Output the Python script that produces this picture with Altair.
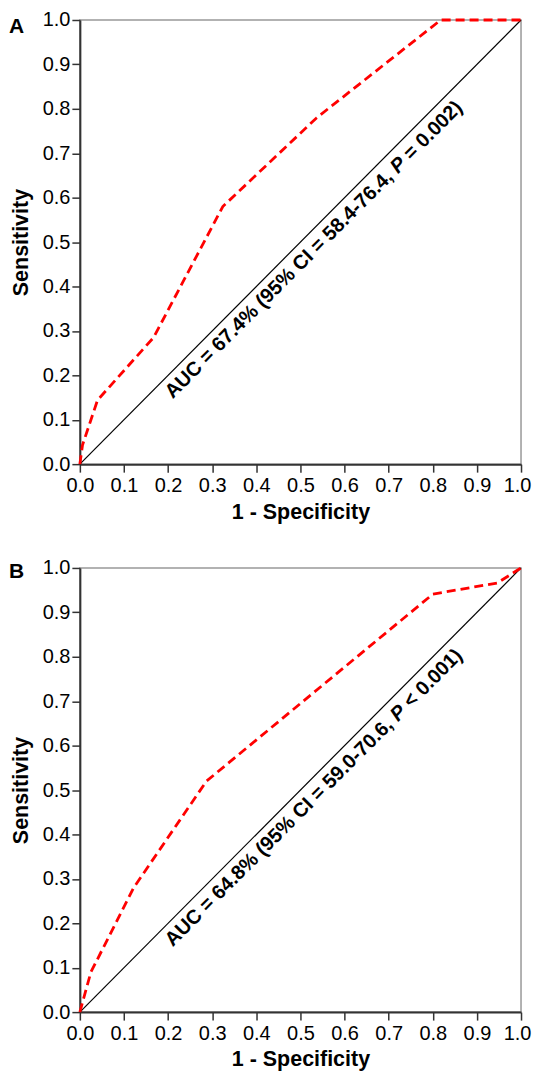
import altair as alt
import pandas as pd

# Panel A ROC
fpr_a = [0.0, 0.006, 0.04, 0.167, 0.324, 0.537, 0.818, 1.0]
tpr_a = [0.0, 0.043, 0.144, 0.285, 0.58, 0.78, 1.0, 1.0]
# Panel B ROC
fpr_b = [0.0, 0.025, 0.122, 0.287, 0.80, 0.946, 1.0]
tpr_b = [0.0, 0.09, 0.28, 0.52, 0.941, 0.966, 1.0]

ticks = [0.0, 0.1, 0.2, 0.3, 0.4, 0.5, 0.6, 0.7, 0.8, 0.9, 1.0]
diag = [0.0, 1.0]

text_a = ["AUC = 67.4% (95% CI = 58.4-76.4,", "P", "= 0.002)"]
text_b = ["AUC = 64.8% (95% CI = 59.0-70.6,", "P", "< 0.001)"]
labels = ["A", "B"]

FONT = "Liberation Sans"
W = 442
H = 445


def panel(fpr, tpr, texts, label, label_y):
    roc = pd.DataFrame({"fpr": fpr, "tpr": tpr})
    dg = pd.DataFrame({"fpr": diag, "tpr": diag})
    xs = alt.X("fpr:Q", scale=alt.Scale(domain=[0, 1], nice=False),
               axis=alt.Axis(values=ticks, format=".1f", title="1 - Specificity",
                             titlePadding=6, labelPadding=3, labelFlush=False,
                             labelOffset={"condition": {"test": "datum.value >= 1",
                                                        "value": -4}, "value": 0}))
    ys = alt.Y("tpr:Q", scale=alt.Scale(domain=[0, 1], nice=False),
               axis=alt.Axis(values=ticks, format=".1f", title="Sensitivity",
                             titlePadding=10, labelPadding=2))
    base_diag = alt.Chart(dg).mark_line(color="black", strokeWidth=1.2).encode(x=xs, y=ys)
    curve = alt.Chart(roc).mark_line(color="#ff0000", strokeWidth=2.8,
                                     strokeDash=[9, 5]).encode(x="fpr:Q", y="tpr:Q")
    anchor = pd.DataFrame({"fpr": [0.5], "tpr": [0.5]})
    fs = 20
    sp = 0.278 * fs
    width1 = 15.674 * fs
    widthP = 0.667 * fs
    width3 = 3.697 * fs
    total = width1 + sp + widthP + sp + width3
    shift = 4
    end1 = width1 - total / 2.0 + shift
    p_start = end1 + sp
    t3_start = p_start + widthP + sp
    dy = 5
    common = dict(angle=315, baseline="top", dy=dy, font=FONT, fontSize=fs,
                  fontWeight="bold", color="black")
    t1 = alt.Chart(anchor).mark_text(text=texts[0], align="right", dx=end1,
                                     **common).encode(x="fpr:Q", y="tpr:Q")
    t2 = alt.Chart(anchor).mark_text(text=texts[1], align="left", dx=p_start,
                                     fontStyle="italic", **common).encode(x="fpr:Q", y="tpr:Q")
    t3 = alt.Chart(anchor).mark_text(text=texts[2], align="left", dx=t3_start,
                                     **common).encode(x="fpr:Q", y="tpr:Q")
    lab = alt.Chart(pd.DataFrame({"l": [label]})).mark_text(
        align="left", baseline="alphabetic", font=FONT, fontSize=21, fontWeight="bold",
        color="black").encode(x=alt.value(-71), y=alt.value(label_y), text="l:N")
    return alt.layer(base_diag, curve, t1, t2, t3, lab).properties(width=W, height=H)


chart = alt.vconcat(
    panel(fpr_a, tpr_a, text_a, labels[0], 13),
    panel(fpr_b, tpr_b, text_b, labels[1], 10),
    spacing=33,
    background="white",
    padding={"left": 0, "top": 0, "right": 0, "bottom": 0},
).configure_view(stroke="#999999", strokeWidth=1.5).configure_axis(
    grid=False, domainColor="#333333", domainWidth=2, tickColor="#333333", tickWidth=1.5,
    tickSize=8, labelFont=FONT, labelFontSize=20, labelColor="black", titleFont=FONT,
    titleFontSize=21.5, titleFontWeight="bold", titleColor="black"
)

chart.save("out.html", embed_options={"renderer": "svg", "actions": False})
